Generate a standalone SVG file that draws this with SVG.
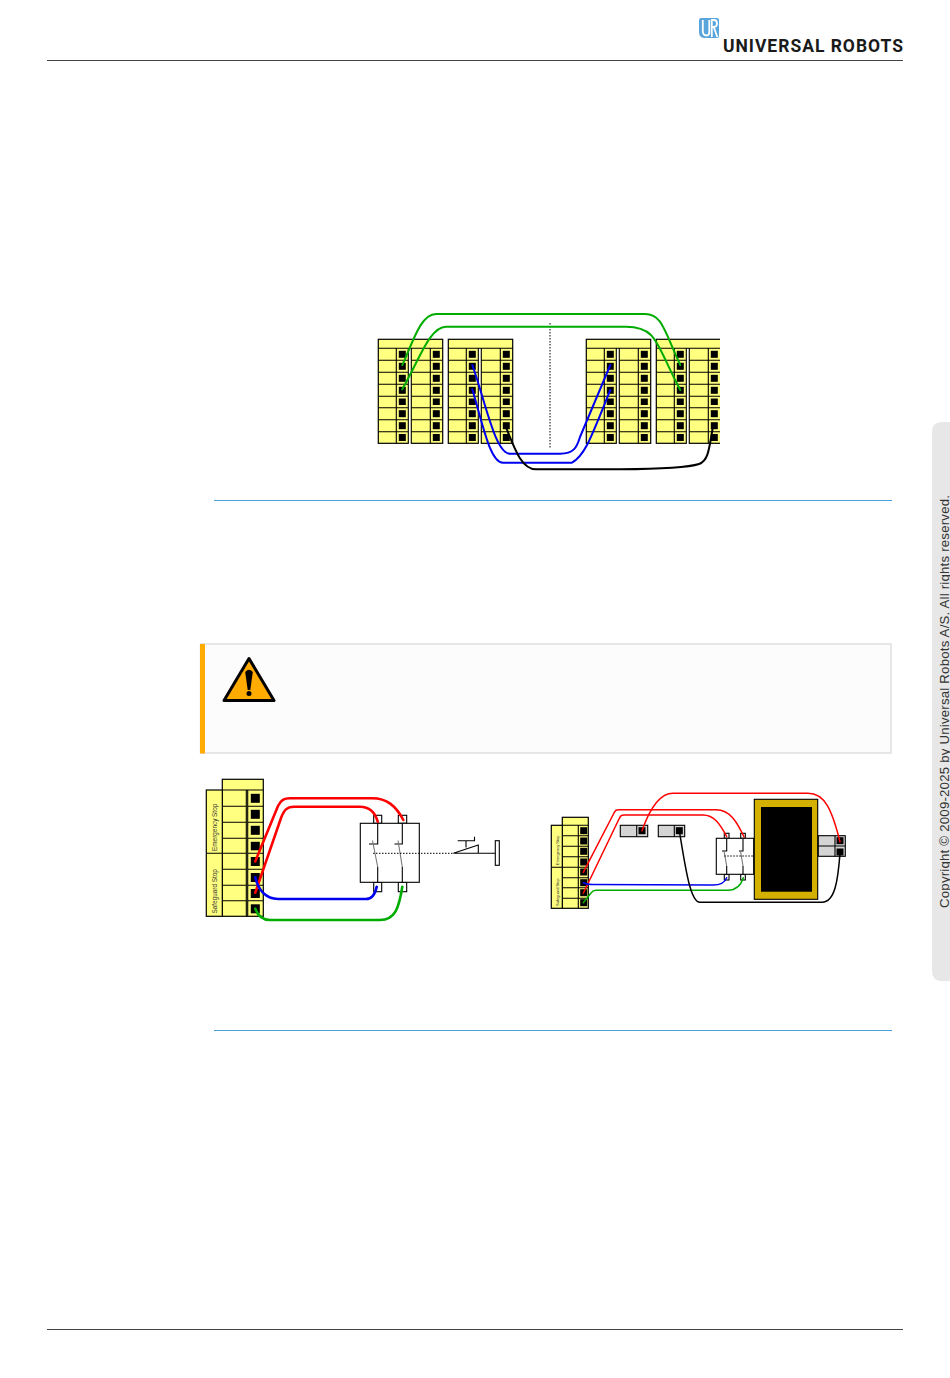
<svg xmlns="http://www.w3.org/2000/svg" width="950" height="1378" viewBox="0 0 950 1378">
<style>
.y{fill:#ffff80;stroke:#000;stroke-width:1.2}
.ln{fill:none;stroke:#000;stroke-width:1.1}
.k{fill:#000}
.rule{stroke:#4a9fdc;stroke-width:1;fill:none}
.hr{stroke:#444;stroke-width:1;fill:none}
.w{fill:none;stroke-linecap:round;stroke-linejoin:round}
.w1{stroke-width:2}.w2{stroke-width:2.6}.w3{stroke-width:1.5}
.g{stroke:#00ac00}.b{stroke:#0000f0}.r{stroke:#f00}.bk{stroke:#000}
.lb{font-family:"Liberation Sans",Arial,sans-serif;fill:#333}
.gr{fill:#d4d4d4;stroke:#000;stroke-width:1.100}
.wh{fill:#fff;stroke:#000;stroke-width:1.100}
.sl{fill:none;stroke:#777;stroke-width:1.100}
.dot{fill:none;stroke:#000;stroke-width:1;stroke-dasharray:1.500 1.500}
</style>
<defs>
<g id="col">
<rect class="k" x="398.800" y="350.800" width="7" height="7"/>
<rect class="k" x="398.800" y="362.800" width="7" height="7"/>
<rect class="k" x="398.800" y="374.800" width="7" height="7"/>
<rect class="k" x="398.800" y="386.800" width="7" height="7"/>
<rect class="k" x="398.800" y="398.500" width="7" height="6.500"/>
<rect class="k" x="398.800" y="410.200" width="7" height="7"/>
<rect class="k" x="398.800" y="422.200" width="7" height="7"/>
<rect class="k" x="398.800" y="434" width="7" height="7"/>
</g>
<g id="tb">
<rect class="y" x="378.300" y="339.300" width="64.400" height="104"/>
<rect x="408.800" y="348.800" width="2" height="95.500" fill="#fff"/>
<path class="ln" d="M378.300 348.300H442.700M378.300 360.300H408.300M378.300 372.300H408.300M378.300 384.300H408.300M378.300 396.300H408.300M378.300 407.700H408.300M378.300 419.700H408.300M378.300 431.700H408.300M411.300 360.300H442.700M411.300 372.300H442.700M411.300 384.300H442.700M411.300 396.300H442.700M411.300 407.700H442.700M411.300 419.700H442.700M411.300 431.700H442.700M408.300 348.300V443.300M411.300 348.300V443.300M396.300 348.300V443.300M430.300 348.300V443.300"/>
<use href="#col"/>
<use href="#col" x="34"/>
</g>
<clipPath id="cut"><rect x="640" y="330" width="80" height="120"/></clipPath>
</defs>
<rect width="950" height="1378" fill="#fff"/>
<g id="header">
<path d="M701 18H717Q719 18 719 20V36Q719 38 717 38H705Q699 38 699 32V20Q699 18 701 18Z" fill="#5aa5dc"/>
<path d="M702.800 20V31Q702.800 35.500 706.500 35.500Q709.300 35.500 709.300 32V20M711.800 37V20H714Q717 20 717 23.500Q717 27 713.800 27H711.800M713.800 27L717.300 37" fill="none" stroke="#fff" stroke-width="1.800"/>
<text id="logo-text" x="723" y="52" font-family="Roboto,'Liberation Sans',sans-serif" font-weight="700" font-size="17.500" textLength="180" lengthAdjust="spacing" fill="#1a1a1a">UNIVERSAL ROBOTS</text>
<path class="hr" d="M47 60.500H903"/>
</g>
<g id="sidebar">
<path d="M950 422H942Q932 422 932 432V971Q932 981 942 981H950Z" fill="#e6e7e6"/>
<text class="lb" transform="translate(949 908) rotate(-90)" font-size="13.300" textLength="413" fill="#333">Copyright © 2009-2025 by Universal Robots A/S. All rights reserved.</text>
</g>
<g id="terminal-a"><use href="#tb"/></g>
<g id="terminal-b"><use href="#tb" x="70"/></g>
<g id="terminal-c"><use href="#tb" x="208"/></g>
<g id="terminal-d" clip-path="url(#cut)"><use href="#tb" x="278"/></g>
<path id="separator" class="dot" d="M550 323V448"/>
<g id="connectors-top">
<path class="w w1 g" d="M402.300 365C412 345 420 314 436 314H645C662 314 664 330 680.300 365"/>
<path class="w w1 g" d="M402.300 389.300C420 358 430 326.700 446 326.700H626C658 326.700 656 345 680.300 390"/>
<path class="w w1 b" d="M472.300 365C485 400 495 453.700 510 453.700H560C574 453.700 577 447 580 437L610.300 365"/>
<path class="w w1 b" d="M472.300 389.300C483 425 490 462.700 503 462.700H572C585 455 590 440 610.300 390"/>
<path class="w w1 bk" d="M506.700 429C515 450 522 469.300 536 469.300H620C660 469 690 467 699 464C708 461 709 450 712.700 428"/>
</g>
<path class="rule" d="M214 500.500H892"/>
<g id="warning">
<rect x="200.500" y="644" width="690.500" height="109" fill="#fcfcfc" stroke="#ddd" stroke-width="1.400"/>
<rect x="200" y="644" width="5" height="109.500" fill="#ffab00"/>
<path d="M249 658.500L274 700.500H224Z" fill="#ffab00" stroke="#000" stroke-width="3" stroke-linejoin="round"/>
<path d="M245.200 672Q249 667.500 252.800 672L250.300 690H247.700Z" fill="#000"/>
<circle cx="249" cy="693.500" r="2.500" fill="#000"/>
</g>
<g id="terminal-left">
<rect class="y" x="222.300" y="779.300" width="41" height="137"/>
<rect class="y" x="206.300" y="790" width="16" height="126.300"/>
<path class="ln" d="M206.300 853.300H222.300M222.300 790H263.300M222.300 806.300H246.300M222.300 822.300H246.300M222.300 838.300H246.300M222.300 853.300H246.300M222.300 869.300H246.300M222.300 885.300H246.300M222.300 900.700H246.300M247.700 806.300H263.300M247.700 822.300H263.300M247.700 838.300H263.300M247.700 853.300H263.300M247.700 869.300H263.300M247.700 885.300H263.300M247.700 900.700H263.300M246.300 790V916.300M247.700 790V916.300"/>
<g class="k"><rect x="250.800" y="793.800" width="9" height="9"/><rect x="250.800" y="809.800" width="9" height="9"/><rect x="250.800" y="825.800" width="9" height="9"/><rect x="250.800" y="841.800" width="9" height="8.500"/><rect x="250.800" y="857" width="9" height="9"/><rect x="250.800" y="873" width="9" height="9"/><rect x="250.800" y="889" width="9" height="9"/><rect x="250.800" y="904.300" width="9" height="9"/></g>
<text class="lb" transform="translate(216.500 851) rotate(-90)" font-size="6.400">Emergency Stop</text>
<text class="lb" transform="translate(216.500 913.500) rotate(-90)" font-size="6.400">Safeguard Stop</text>
</g>
<g id="relay-left">
<rect class="wh" x="373.700" y="815.300" width="8" height="8"/>
<rect class="wh" x="398.300" y="815.300" width="8.400" height="8"/>
<rect class="wh" x="373.700" y="882.300" width="8" height="9.400"/>
<rect class="wh" x="398.300" y="882.300" width="8.400" height="9.400"/>
<rect class="wh" x="360.300" y="823.300" width="59" height="59"/>
<path class="ln" d="M377.700 823.300V844H369M377.700 882.300V867M402.300 823.300V844H394.500M402.300 882.300V867"/>
<path class="sl" d="M372.500 840.500L377.700 867M398 840.500L402.300 867"/>
<path class="dot" d="M373 853.300H453"/>
</g>
<g id="pushbutton">
<path class="ln" d="M453.300 853.300L478.300 845V853.300M453.300 853.300H495.300M457.700 840.700H474.500V836.700M466 840.700V847.500"/>
<rect class="wh" x="495.300" y="840.700" width="4" height="24.600"/>
</g>
<g id="connectors-left">
<path class="w w2 r" d="M255.300 861.300L278 806C281 800 284 798.300 290 798.300H372C387 798.300 396 806 403.300 820"/>
<path class="w w2 r" d="M255.300 892.700L281 818C284 810 287 806.700 294 806.700H360C370 806.700 375 812 377.700 821.700"/>
<path class="w w2 b" d="M255.300 877.300C258 890 266 899 278 899H366C372 899 375 895 376.700 886.700"/>
<path class="w w2 g" d="M255.300 908.700C258 916 262 920 270 920H380C395 920 399 908 402.300 886.700"/>
</g>
<g id="terminal-right">
<rect class="y" x="562.300" y="817.300" width="26" height="91"/>
<rect class="y" x="551.300" y="825.300" width="11" height="83"/>
<path class="ln" d="M551.300 867.300H562.300M562.300 825.300H588.300M562.300 835.700H578.300M562.300 846.300H578.300M562.300 856.700H578.300M562.300 867.300H578.300M562.300 877.700H578.300M562.300 887.700H578.300M562.300 898.300H578.300M578.300 825.300V908.300M578.300 835.700H588.300M578.300 846.300H588.300M578.300 856.700H588.300M578.300 867.300H588.300M578.300 877.700H588.300M578.300 887.700H588.300M578.300 898.300H588.300"/>
<g class="k"><rect x="580.200" y="827.200" width="7" height="7"/><rect x="580.200" y="837.500" width="7" height="7"/><rect x="580.200" y="847.800" width="7" height="7"/><rect x="580.200" y="858.500" width="7" height="7"/><rect x="580.200" y="868.500" width="7" height="7"/><rect x="580.200" y="879.200" width="7" height="7"/><rect x="580.200" y="889.200" width="7" height="7"/><rect x="580.200" y="899.200" width="7" height="7"/></g>
<text class="lb" transform="translate(558.500 865) rotate(-90)" font-size="4">Emergency Stop</text>
<text class="lb" transform="translate(558.500 906) rotate(-90)" font-size="4">Safeguard Stop</text>
</g>
<g id="switch-a">
<rect class="gr" x="620.300" y="825.300" width="27.400" height="11.400"/>
<path class="ln" d="M636.700 825.300V836.700"/>
<rect class="k" x="638.500" y="827.200" width="7" height="7"/>
</g>
<g id="switch-b">
<rect class="gr" x="658.300" y="825.300" width="26.400" height="11.400"/>
<path class="ln" d="M674.300 825.300V836.700"/>
<rect class="k" x="675.800" y="827.200" width="7" height="7"/>
</g>
<g id="relay-right">
<rect class="wh" x="724.300" y="833.300" width="4.700" height="5"/>
<rect class="wh" x="740.700" y="833.300" width="4.600" height="5"/>
<rect class="wh" x="724.300" y="874.300" width="4.700" height="5.700"/>
<rect class="wh" x="740.700" y="874.300" width="4.600" height="5.700"/>
<rect class="wh" x="716.300" y="838.300" width="37.400" height="36"/>
<path class="ln" d="M726.700 838.300V851H722M726.700 874.300V866M743 838.300V851H739M743 874.300V866"/>
<path class="sl" d="M724 851L726.700 866M740.500 851L743 866"/>
<path class="dot" d="M724.300 856H753.700"/>
</g>
<g id="device">
<rect x="754.300" y="799.300" width="63.400" height="100" fill="#d4b000" stroke="#000" stroke-width="1.100"/>
<rect class="k" x="761" y="807" width="51" height="84.700"/>
</g>
<g id="connector-right">
<rect class="gr" x="818.300" y="835.700" width="27" height="20.600"/>
<path class="ln" d="M818.300 846H845.300M835 835.700V856.300"/>
<rect class="k" x="836.500" y="837.200" width="7" height="7"/>
<rect class="k" x="836.500" y="848.500" width="7" height="7"/>
</g>
<g id="connectors-right">
<path class="w w3 r" d="M583.300 872.300L614 813C615.500 810.500 616 809.700 619 809.700H716C730 809.700 737 822 744 836.700"/>
<path class="w w3 r" d="M583.300 893.300L619 819C620.500 816 621 815 624 815H703C714 815 720 824 726.700 836.700"/>
<path class="w w3 r" d="M642 830.700C650 808 660 793.300 673 793.300H808C825 793.300 832 810 840 841.700"/>
<path class="w w3 b" d="M583.300 882.700C586 884 588 884.500 592 884.500L711 885C720 885.500 725 882 726.700 877.700"/>
<path class="w w3 g" d="M583.300 902.700L591 893C592.500 891 593.500 890.300 596 890.300H728C736 890 741 885 743.300 877.700"/>
<path class="w w3 bk" d="M679.300 830.700C685 865 690 902.300 700 902.300H822C835 902.300 838 880 840 853.300"/>
</g>
<path class="rule" d="M214 1030.500H892"/>
<path id="footer-rule" class="hr" d="M47 1329.500H903"/>
</svg>
